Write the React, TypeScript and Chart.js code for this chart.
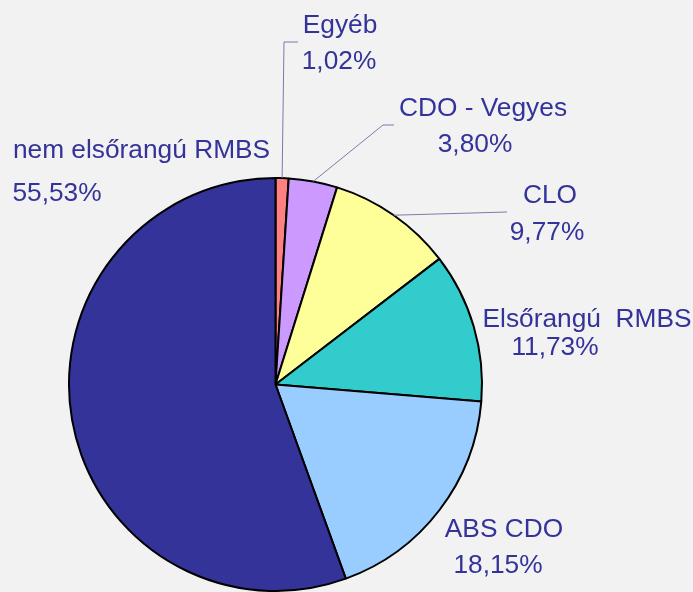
import React, { useEffect, useRef } from "react";
import { Chart, registerables } from "chart.js";

Chart.register(...registerables);

const categories = [
  "Egyéb",
  "CDO - Vegyes",
  "CLO",
  "Elsőrangú  RMBS",
  "ABS CDO",
  "nem elsőrangú RMBS",
];
const values = [1.02, 3.8, 9.77, 11.73, 18.15, 55.53];
const sliceColors = ["#ff8080", "#cc99ff", "#ffff99", "#33cccc", "#99ccff", "#333399"];

// Layout for label text (name line, value line) and optional leader elbow points
const labelLayout = [
  { nameX: 340, nameY: 33, valX: 339, valY: 69, leader: [[284, 42], [298, 42]] },
  { nameX: 483, nameY: 116, valX: 475, valY: 152, leader: [[383, 125], [394, 125]] },
  { nameX: 550, nameY: 203, valX: 547, valY: 240, leader: [[507, 212]] },
  { nameX: 587, nameY: 327, valX: 555, valY: 355, leader: null },
  { nameX: 504, nameY: 537, valX: 498, valY: 573, leader: null },
  { nameX: 141.5, nameY: 158, valX: 57, valY: 201, leader: null },
];

const TEXT_COLOR = "#333399";
const FONT = "26.3px 'Liberation Sans', Arial, sans-serif";

const labelPlugin = {
  id: "customLabels",
  afterDatasetsDraw(chart: any) {
    const ctx = chart.ctx;
    const meta = chart.getDatasetMeta(0);
    ctx.save();
    meta.data.forEach((arc: any, i: number) => {
      const lay = labelLayout[i];
      const p = arc.getProps(["x", "y", "startAngle", "endAngle", "outerRadius"], true);
      if (lay.leader) {
        const mid = (p.startAngle + p.endAngle) / 2;
        const sx = p.x + Math.cos(mid) * p.outerRadius;
        const sy = p.y + Math.sin(mid) * p.outerRadius;
        ctx.beginPath();
        ctx.strokeStyle = "#7a7aaa";
        ctx.lineWidth = 1;
        ctx.moveTo(sx, sy);
        lay.leader.forEach((pt: number[]) => ctx.lineTo(pt[0], pt[1]));
        ctx.stroke();
      }
      ctx.fillStyle = TEXT_COLOR;
      ctx.font = FONT;
      ctx.textAlign = "center";
      ctx.textBaseline = "alphabetic";
      ctx.fillText(categories[i], lay.nameX, lay.nameY);
      ctx.fillText(values[i].toFixed(2).replace(".", ",") + "%", lay.valX, lay.valY);
    });
    ctx.restore();
  },
};

export default function App() {
  const ref = useRef<HTMLCanvasElement>(null);
  useEffect(() => {
    if (!ref.current) return;
    const chart = new Chart(ref.current, {
      type: "pie",
      data: {
        labels: categories,
        datasets: [
          {
            data: values,
            backgroundColor: sliceColors,
            borderColor: "#000000",
            borderWidth: 2,
            borderAlign: "center",
          },
        ],
      },
      options: {
        animation: false,
        responsive: true,
        maintainAspectRatio: false,
        layout: { padding: { left: 68, right: 210, top: 177, bottom: 0 } },
        plugins: { legend: { display: false }, tooltip: { enabled: false } },
      },
      plugins: [labelPlugin],
    });
    return () => chart.destroy();
  }, []);
  return (
    <div
      style={{
        position: "fixed",
        left: 0,
        top: 0,
        width: 693,
        height: 592,
        background: "#f2f2f2",
      }}
    >
      <canvas ref={ref} />
    </div>
  );
}
